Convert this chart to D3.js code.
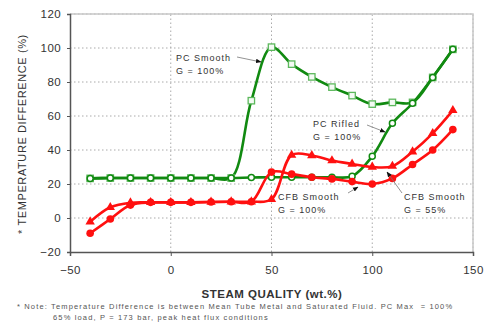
<!DOCTYPE html>
<html>
<head>
<meta charset="utf-8">
<script src="https://cdn.jsdelivr.net/npm/d3@7"></script>
<style>
  body { margin: 0; background: #fff; }
  svg { display: block; font-family: "Liberation Sans", Arial, sans-serif; }
</style>
</head>
<body>
<div id="chart"></div>
<script>
// steam quality (wt.%) at each measured point
var quality = [-40, -30, -20, -10, 0, 10, 20, 30, 40, 50, 60, 70, 80, 90, 100, 110, 120, 130, 140];

// temperature difference (%)
var pcRifled = [23.3, 23.5, 23.5, 23.5, 23.5, 23.5, 23.5, 23.5, 23.8, 24, 24, 24, 24, 24.6, 36.3, 55.7, 67.5, 82.7, 99.2];
var pcSmooth = [23.3, 23.5, 23.5, 23.5, 23.5, 23.5, 23.5, 23.5, 69, 100.5, 90.5, 83, 77, 72, 67, 68, 68, 82.7, 99.2];
var cfb100 = [-9, -0.6, 7.6, 9.2, 9.2, 9.2, 9.4, 9.6, 9.6, 27, 25.8, 24, 23, 21.4, 20, 23.3, 31.5, 40, 52];
var cfb55 = [-2.2, 6.3, 9, 9.2, 9.2, 9.2, 9.4, 9.6, 9.6, 11, 37, 36.8, 33.8, 31.8, 30, 30.5, 39, 49.8, 63.3];

var xTicks = [-50, 0, 50, 100, 150];
var yTicks = [-20, 0, 20, 40, 60, 80, 100, 120];

var W = 485, H = 323;
var margin = { top: 14, right: 12, bottom: 71, left: 70 };

var svg = d3.select("#chart").append("svg").attr("width", W).attr("height", H);

var x = d3.scaleLinear().domain([-50, 150]).range([margin.left, W - margin.right]);
var y = d3.scaleLinear().domain([-20, 120]).range([H - margin.bottom, margin.top]);

// arrow head for the callouts
svg.append("defs").append("marker")
  .attr("id", "arr").attr("viewBox", "0 0 10 10")
  .attr("refX", 9).attr("refY", 5)
  .attr("markerWidth", 7).attr("markerHeight", 7)
  .attr("orient", "auto")
  .append("path").attr("d", "M0,1 L10,5 L0,9 z").attr("fill", "#111");

// grid
svg.append("g").selectAll("line").data(yTicks.slice(1)).join("line")
  .attr("x1", x(-50)).attr("x2", x(150))
  .attr("y1", d => y(d)).attr("y2", d => y(d))
  .attr("stroke", "#aaa").attr("stroke-dasharray", "1.5,2.5");
svg.append("g").selectAll("line").data(xTicks.slice(1)).join("line")
  .attr("x1", d => x(d)).attr("x2", d => x(d))
  .attr("y1", y(-20)).attr("y2", y(120))
  .attr("stroke", "#aaa").attr("stroke-dasharray", "1.5,2.5");

// frame top/right
svg.append("path")
  .attr("d", "M" + x(-50) + "," + y(120) + "H" + x(150) + "V" + y(-20))
  .attr("fill", "none").attr("stroke", "#c8c8c8").attr("stroke-width", 1.5);

// axes
var xAxis = svg.append("g").attr("transform", "translate(0," + y(-20) + ")")
  .call(d3.axisBottom(x).tickValues(xTicks).tickSize(4).tickPadding(10));
var yAxis = svg.append("g").attr("transform", "translate(" + x(-50) + ",0)")
  .call(d3.axisLeft(y).tickValues(yTicks).tickSize(3).tickPadding(6));
[xAxis, yAxis].forEach(function (a) {
  a.select(".domain").attr("stroke", "#555").attr("stroke-width", 1.5);
  a.selectAll(".tick line").attr("stroke", "#555");
  a.selectAll("text").attr("font-size", 11.5).attr("fill", "#333")
    .attr("font-family", "Liberation Sans, Arial, sans-serif").attr("letter-spacing", 0.4);
});

var line = d3.line().curve(d3.curveCatmullRom);

function pts(vals) {
  return quality.map((q, i) => [x(q), y(vals[i])]);
}

var green = "#118a11", red = "#ff1010";

// PC Smooth (squares)
svg.append("path").attr("d", line(pts(pcSmooth)))
  .attr("fill", "none").attr("stroke", green).attr("stroke-width", 2.6);
svg.append("g").selectAll("rect").data(pts(pcSmooth)).join("rect")
  .attr("x", d => d[0] - 3.2).attr("y", d => d[1] - 3.2)
  .attr("width", 6.4).attr("height", 6.4)
  .attr("fill", "#f4fbf4").attr("stroke", "#5cb85c").attr("stroke-width", 1.3);

// PC Rifled (open circles)
svg.append("path").attr("d", line(pts(pcRifled)))
  .attr("fill", "none").attr("stroke", green).attr("stroke-width", 2.6);
svg.append("g").selectAll("circle").data(pts(pcRifled)).join("circle")
  .attr("cx", d => d[0]).attr("cy", d => d[1]).attr("r", 3)
  .attr("fill", "#fff").attr("stroke", green).attr("stroke-width", 1.5);

// CFB Smooth G = 55% (triangles)
svg.append("path").attr("d", line(pts(cfb55)))
  .attr("fill", "none").attr("stroke", red).attr("stroke-width", 2.6);
svg.append("g").selectAll("path").data(pts(cfb55)).join("path")
  .attr("transform", d => "translate(" + d[0] + "," + d[1] + ")")
  .attr("d", d3.symbol(d3.symbolTriangle, 38))
  .attr("fill", red);

// CFB Smooth G = 100% (filled circles)
svg.append("path").attr("d", line(pts(cfb100)))
  .attr("fill", "none").attr("stroke", red).attr("stroke-width", 2.6);
svg.append("g").selectAll("circle").data(pts(cfb100)).join("circle")
  .attr("cx", d => d[0]).attr("cy", d => d[1]).attr("r", 3.8)
  .attr("fill", red);

// callouts
var notes = [
  { t: ["PC Smooth", "G = 100%"], tx: 176, ty: 61, a: [237, 57, 261, 62] },
  { t: ["PC Rifled", "G = 100%"], tx: 313, ty: 127, a: [367, 125, 385, 132] },
  { t: ["CFB Smooth", "G = 100%"], tx: 278, ty: 200, a: [348, 193, 358, 187] },
  { t: ["CFB Smooth", "G = 55%"], tx: 404, ty: 200, a: [402, 193, 387, 172] }
];
notes.forEach(function (n) {
  var t = svg.append("text").attr("x", n.tx).attr("y", n.ty)
    .attr("font-size", 9).attr("fill", "#333").attr("letter-spacing", 1);
  t.append("tspan").attr("x", n.tx).text(n.t[0]);
  t.append("tspan").attr("x", n.tx).attr("dy", 13).text(n.t[1]);
  svg.append("line")
    .attr("x1", n.a[0]).attr("y1", n.a[1]).attr("x2", n.a[2]).attr("y2", n.a[3])
    .attr("stroke", "#777").attr("stroke-width", 0.8).attr("marker-end", "url(#arr)");
});

// axis titles
svg.append("text").attr("x", 272).attr("y", 298).attr("text-anchor", "middle")
  .attr("font-size", 11.5).attr("font-weight", "bold").attr("fill", "#333")
  .attr("letter-spacing", 0.5).text("STEAM QUALITY (wt.%)");
svg.append("text").attr("transform", "translate(26," + 134 + ") rotate(-90)")
  .attr("text-anchor", "middle")
  .attr("font-size", 11).attr("fill", "#333").attr("letter-spacing", 0.6)
  .text("* TEMPERATURE DIFFERENCE (%)");

// footnote
svg.append("text").attr("x", 17).attr("y", 309)
  .attr("font-size", 7.5).attr("fill", "#555").attr("letter-spacing", 1.15)
  .style("white-space", "pre")
  .text("* Note: Temperature Difference is between Mean Tube Metal and Saturated Fluid. PC Max  = 100%");
svg.append("text").attr("x", 53).attr("y", 320)
  .attr("font-size", 7.5).attr("fill", "#555").attr("letter-spacing", 1.15)
  .text("65% load, P = 173 bar, peak heat flux conditions");
</script>
</body>
</html>
